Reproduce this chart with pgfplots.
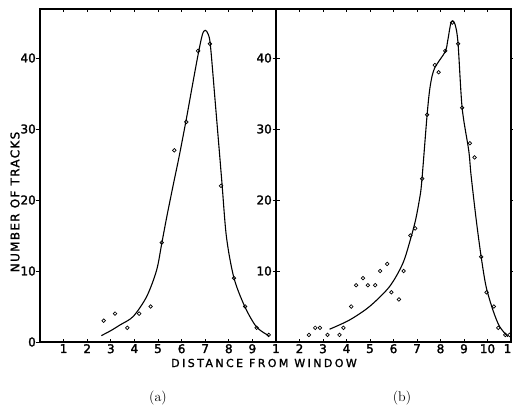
\documentclass[border=0pt]{standalone}
\usepackage{fontspec}
\usepackage{pgfplots}
\pgfplotsset{compat=1.18}
\newfontfamily\sansf[FakeBold=2]{DejaVu Sans}
\newfontfamily\xlblfont[LetterSpace=22,FakeBold=1.5]{DejaVu Sans}
\newfontfamily\ylblfont[LetterSpace=11,FakeBold=1.5]{DejaVu Sans}
\begin{document}
\begin{tikzpicture}
\path[use as bounding box] (0pt,0pt) rectangle (513pt,407pt);
\pgfplotsset{
 panel/.style={
  at={(#1,65pt)}, anchor=south west, scale only axis,
  height=333pt, ymin=0, ymax=46.9,
  axis line style={line width=1.2pt},
  every tick/.style={black, line width=0.8pt},
  ytick align=outside, xtick align=inside, major tick length=3.5pt,
  /pgf/number format/assume math mode=true,
  yticklabel style={font=\sansf\fontsize{12}{12}\selectfont, inner sep=0.5pt},
  xticklabel style={font=\sansf\fontsize{12}{12}\selectfont, inner sep=2pt},
  every axis plot/.append style={black},
 },
 pts/.style={only marks, mark=o, mark size=1.8pt, mark options={line width=0.7pt}},
 crv/.style={smooth, no marks, line width=1.1pt},
}
% ---------- panel (a)
\begin{axis}[panel=40pt, width=236pt, xmin=0, xmax=10,
  xtick={1,2,3,4,5,6,7,8,9,10}, xticklabels={1,2,3,4,5,6,7,8,9,1},
  ytick={0,10,20,30,40}]
\addplot[crv] coordinates {
 (2.6,0.9) (3.0,1.6) (3.39,2.4) (3.95,3.6) (4.52,6.4) (4.94,10.1) (5.16,13.9)
 (5.37,17.6) (5.65,22.2) (5.9,26.2) (6.2,31.4) (6.45,36) (6.7,40.5) (6.88,43.3) (7.0,43.9)
 (7.12,43.4) (7.22,41.8) (7.42,34) (7.7,22.8) (7.9,14.8) (8.22,9) (8.69,4.9)
 (9.18,2.1) (9.69,0.9)};
\addplot[pts] coordinates {
 (2.7,3) (3.18,4) (3.7,2) (4.2,4) (4.69,5) (5.16,14) (5.69,27) (6.2,31)
 (6.7,41) (7.2,42) (7.67,22) (8.22,9) (8.69,5) (9.18,2) (9.69,1)};
\end{axis}
% ---------- panel (b)
\begin{axis}[panel=276pt, width=235pt, xmin=1, xmax=11,
  xtick={2,3,4,5,6,7,8,9,10,11}, xticklabels={2,3,4,5,6,7,8,9,10,\kern-3.5pt 1\kern3.5pt},
  ytick={10,20,30,40}]
\addplot[crv] coordinates {
 (3.28,1.8) (4.13,3.1) (4.98,5.0) (5.83,7.8) (6.4,11.1) (6.75,14.8) (6.94,17.2)
 (7.1,20) (7.2,22.5) (7.43,32) (7.56,36) (7.74,38.5) (8.2,40.9) (8.31,42.5)
 (8.45,45) (8.6,44.9) (8.74,42.3) (8.92,33) (9.2,27) (9.3,23.5) (9.52,17.2)
 (9.73,12) (9.94,7.8) (10.23,4.5) (10.51,2.2) (10.87,0.75)};
\addplot[pts] coordinates {
 (2.4,1) (2.67,2) (2.87,2) (3.19,1) (3.7,1) (3.87,2) (4.2,5) (4.41,8) (4.7,9)
 (4.91,8) (5.22,8) (5.43,10) (5.73,11) (5.91,7) (6.23,6) (6.43,10) (6.72,15)
 (6.92,16) (7.22,23) (7.43,32) (7.76,39) (7.92,38) (8.2,41) (8.5,45) (8.75,42)
 (8.92,33) (9.25,28) (9.45,26) (9.73,12) (9.96,7) (10.27,5) (10.46,2)
 (10.76,1) (10.94,1)};
\end{axis}
% ---------- labels
\node[rotate=90, font=\ylblfont\fontsize{12}{12}\selectfont] at (15pt,205pt) {NUMBER OF TRACKS};
\node[font=\xlblfont\fontsize{11}{11}\selectfont] at (264pt,44pt) {DISTANCE FROM WINDOW};
\node[font=\fontsize{14}{14}\selectfont] at (158pt,9pt) {(a)};
\node[font=\fontsize{14}{14}\selectfont] at (402pt,9pt) {(b)};
\end{tikzpicture}
\end{document}
